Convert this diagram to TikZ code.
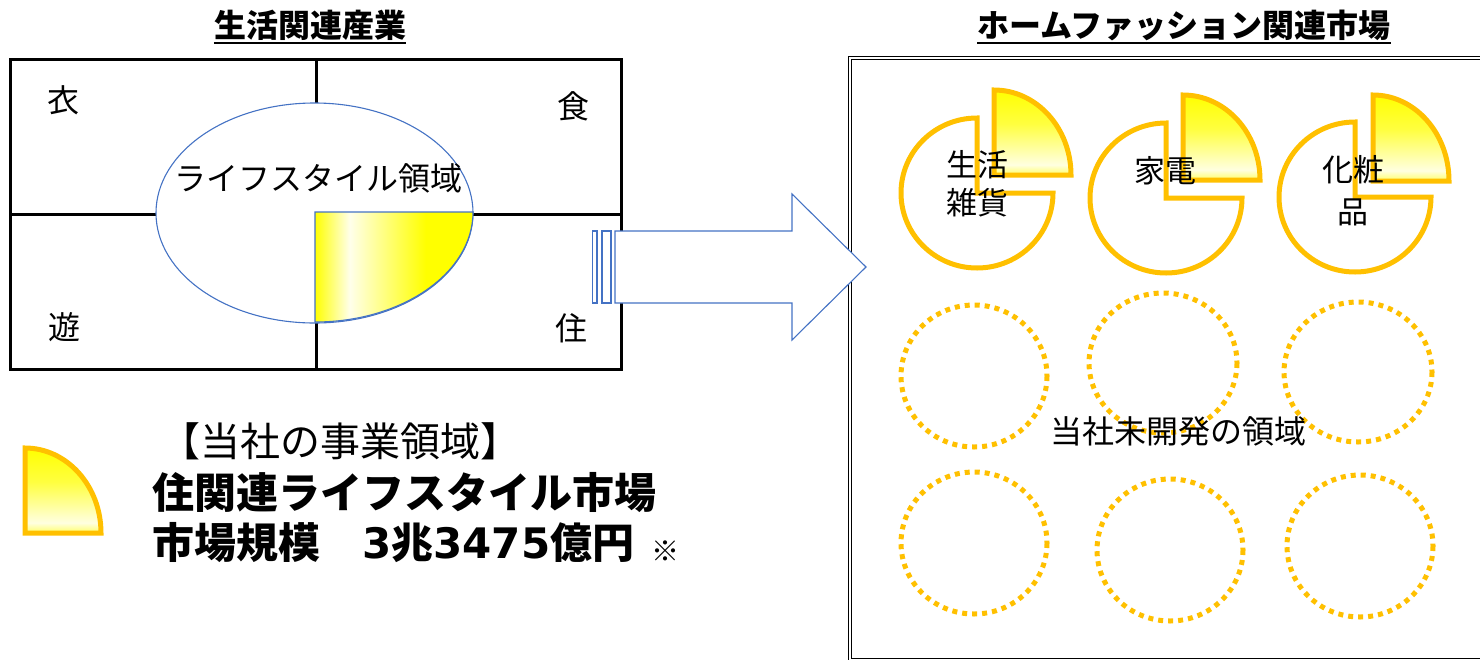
\documentclass[tikz,border=0pt]{standalone}
\usepackage{fontspec}
\setmainfont{Noto Sans CJK JP}
\newfontfamily\digitfont{DejaVu Sans}
\definecolor{orng}{HTML}{FFC000}
\definecolor{bluo}{HTML}{4472C4}
\definecolor{yel}{HTML}{FFFF00}
\pgfdeclareverticalshading{pieshade}{100bp}{color(0bp)=(yel!60!white); color(25bp)=(yel!60!white); color(31bp)=(yel!12!white); color(55bp)=(yel!75!white); color(75bp)=(yel); color(100bp)=(yel)}
\pgfdeclarehorizontalshading{leftshade}{100bp}{color(0bp)=(yel); color(25bp)=(yel); color(36bp)=(yel!8!white); color(60bp)=(yel); color(100bp)=(yel)}
\begin{document}
\begin{tikzpicture}[x=1pt,y=-1pt,
  grid/.style={line width=3pt, black},
  blueline/.style={draw=bluo, line width=1.1pt},
  pieline/.style={draw=orng, line width=5pt, line join=miter},
  dotc/.style={draw=orng, line width=5pt, dash pattern=on 5pt off 5pt},
  lbl/.style={font=\fontsize{32}{38}\selectfont, inner sep=0pt},
  ttl/.style={font=\bfseries\fontsize{32}{38}\selectfont, inner sep=0pt},
  uline/.style={line width=2pt, black}]
\useasboundingbox (0,0) rectangle (1480,659);
\clip (0,0) rectangle (1480,659);

% titles
\node[ttl] (t1) at (310,25) {生活関連産業};
\draw[uline] ([yshift=-2.5pt]t1.south west) -- ([yshift=-2.5pt]t1.south east);
\node[ttl] (t2) at (1184,25) {ホームファッション関連市場};
\draw[uline] ([yshift=-2.5pt]t2.south west) -- ([yshift=-2.5pt]t2.south east);

% left grid
\draw[grid] (10,59) rectangle (621,369);
\draw[grid] (316,59) -- (316,369);
\draw[grid] (10,214) -- (621,214);
\draw[blueline, fill=white] (314.5,213) ellipse[x radius=158.5, y radius=110];
\shadedraw[blueline, shading=leftshade] (315,212) -- ++(158,0) arc[start angle=0, end angle=90, x radius=158, y radius=110] -- cycle;
\node[lbl] (yi) at (63,100) {衣};
\node[lbl] (shoku) at (573,106) {食};
\node[lbl] (asobi) at (64,327) {遊};
\node[lbl] (ju) at (571,328) {住};
\node[lbl] (ls) at (318,178) {ライフスタイル領域};

% right box
\draw[double=white, double distance=2pt, line width=1.1pt] (850,58) rectangle (1500,660);

% arrow
\draw[blueline, fill=white] (615,231) -- (792,231) -- (792,194) -- (866,267) -- (792,340) -- (792,303) -- (615,303) -- cycle;
\draw[blueline, fill=white] (592.5,231) rectangle (597,303);
\draw[blueline, fill=white] (602,231) rectangle (611,303);

% pies
\foreach \cx/\cy/\qx/\qy/\qrx/\qry in {977/193/994/175/77/85, 1166/198/1183/180/77/85, 1355/197/1373/181/76/86}{
  \draw[pieline, fill=white] (\cx,\cy) -- ++(76,0) arc[start angle=0, end angle=270, x radius=76, y radius=75] -- cycle;
  \shadedraw[pieline, shading=pieshade] (\qx,\qy) -- ++(0,-\qry) arc[start angle=270, end angle=360, x radius=\qrx, y radius=\qry] -- cycle;
}
\node[lbl, align=center, font=\fontsize{31}{38}\selectfont] (zakka) at (977,184) {生活\\雑貨};
\node[lbl, font=\fontsize{31}{38}\selectfont] (kaden) at (1165,171) {家電};
\node[lbl, align=center, font=\fontsize{31}{42}\selectfont] (kesho) at (1353,191) {化粧\\品};

% dotted circles
\draw[dotc] (974,376) ellipse[x radius=73, y radius=71];
\draw[dotc] (1163,363) ellipse[x radius=74, y radius=70];
\draw[dotc] (1358,372) ellipse[x radius=74, y radius=70];
\draw[dotc] (974,543) ellipse[x radius=73, y radius=71];
\draw[dotc] (1170,550) ellipse[x radius=73, y radius=71];
\draw[dotc] (1360,546) ellipse[x radius=73, y radius=71];
\node[lbl] (mikai) at (1178,431) {当社未開発の領域};

% legend
\shadedraw[pieline, shading=pieshade] (25,533) -- ++(0,-85) arc[start angle=270, end angle=360, x radius=76, y radius=85] -- cycle;
\node[inner sep=0pt, font=\fontsize{40}{46}\selectfont] (lg1) at (340,441) {【当社の事業領域】};
\node[inner sep=0pt, anchor=west, font=\bfseries\fontsize{42}{48}\selectfont] (lg2) at (152,493) {住関連ライフスタイル市場};
\node[inner sep=0pt, anchor=west, font=\bfseries\fontsize{42}{48}\selectfont] (lg3) at (152,543) {市場規模　{\digitfont\bfseries 3}兆{\digitfont\bfseries 3475}億円};
\node[inner sep=0pt, font=\fontsize{28}{32}\selectfont] (kome) at (665,551) {※};
\end{tikzpicture}
\end{document}
